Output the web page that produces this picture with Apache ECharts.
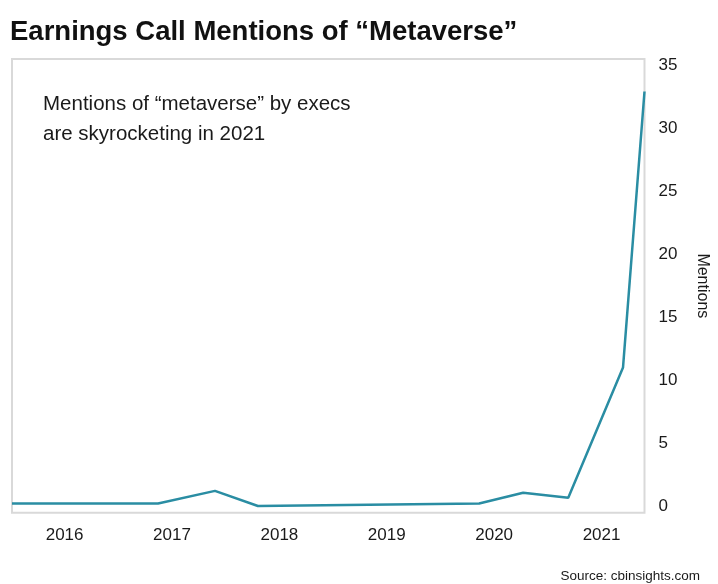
<!DOCTYPE html>
<html>
<head>
<meta charset="utf-8">
<style>
  html, body { margin: 0; padding: 0; background: #ffffff; }
  #chart { width: 718px; height: 584px; }
</style>
<script src="https://cdn.jsdelivr.net/npm/echarts@6/dist/echarts.min.js"></script>
</head>
<body>
<div id="chart"></div>
<script>
// Earnings-call mentions of "metaverse", by date (fractional year)
const dates = [2015.51, 2016.87, 2017.40, 2017.80, 2019.86, 2020.27, 2020.69, 2021.20, 2021.40];
const mentions = [0.2, 0.2, 1.2, 0, 0.2, 1.05, 0.65, 11, 32.9];

// Axis tick labels
const yearTicks = [2016, 2017, 2018, 2019, 2020, 2021];
const mentionTicks = [0, 5, 10, 15, 20, 25, 30, 35];

const titleText = 'Earnings Call Mentions of \u201CMetaverse\u201D';
const noteLines = ['Mentions of \u201Cmetaverse\u201D by execs', 'are skyrocketing in 2021'];
const sourceText = 'Source: cbinsights.com';

const FONT = '"Liberation Sans", Arial, sans-serif';

const chart = echarts.init(document.getElementById('chart'), null, { renderer: 'canvas' });

chart.setOption({
  animation: false,
  backgroundColor: '#ffffff',
  grid: {
    show: true,
    left: 12,
    right: 73.5,
    top: 59,
    bottom: 71.3,
    containLabel: false,
    outerBoundsMode: 'none',
    borderColor: '#d9d9d9',
    borderWidth: 2,
    backgroundColor: 'transparent'
  },
  xAxis: {
    type: 'value',
    min: 2015.51,
    max: 2021.40,
    axisLine: { show: false },
    axisTick: { show: false },
    splitLine: { show: false },
    axisLabel: {
      customValues: yearTicks,
      margin: 14,
      color: '#1a1a1a',
      fontFamily: FONT,
      fontSize: 17,
      formatter: v => String(Math.round(v))
    }
  },
  yAxis: {
    type: 'value',
    position: 'right',
    min: -0.53,
    max: 35.48,
    axisLine: { show: false },
    axisTick: { show: false },
    splitLine: { show: false },
    axisLabel: {
      customValues: mentionTicks,
      margin: 14,
      color: '#1a1a1a',
      fontFamily: FONT,
      fontSize: 17,
      formatter: v => String(Math.round(v))
    },
    name: 'Mentions',
    nameLocation: 'middle',
    nameRotate: -90,
    nameGap: 50,
    nameTextStyle: {
      color: '#1a1a1a',
      fontFamily: FONT,
      fontSize: 16
    }
  },
  series: [{
    type: 'line',
    data: dates.map((d, i) => [d, mentions[i]]),
    showSymbol: false,
    symbol: 'none',
    lineStyle: { color: '#2a8da3', width: 2.5 },
    z: 3
  }],
  graphic: [
    {
      type: 'text',
      left: 10,
      top: 18,
      style: {
        text: titleText,
        fill: '#111111',
        font: 'bold 27.5px ' + FONT
      }
    },
    {
      type: 'text',
      left: 43,
      top: 89,
      style: {
        text: noteLines.join('\n'),
        fill: '#1a1a1a',
        font: '20.5px ' + FONT,
        lineHeight: 30
      }
    },
    {
      type: 'text',
      right: 18,
      top: 569,
      style: {
        text: sourceText,
        fill: '#1a1a1a',
        font: '13.5px ' + FONT
      }
    }
  ]
});
</script>
</body>
</html>
